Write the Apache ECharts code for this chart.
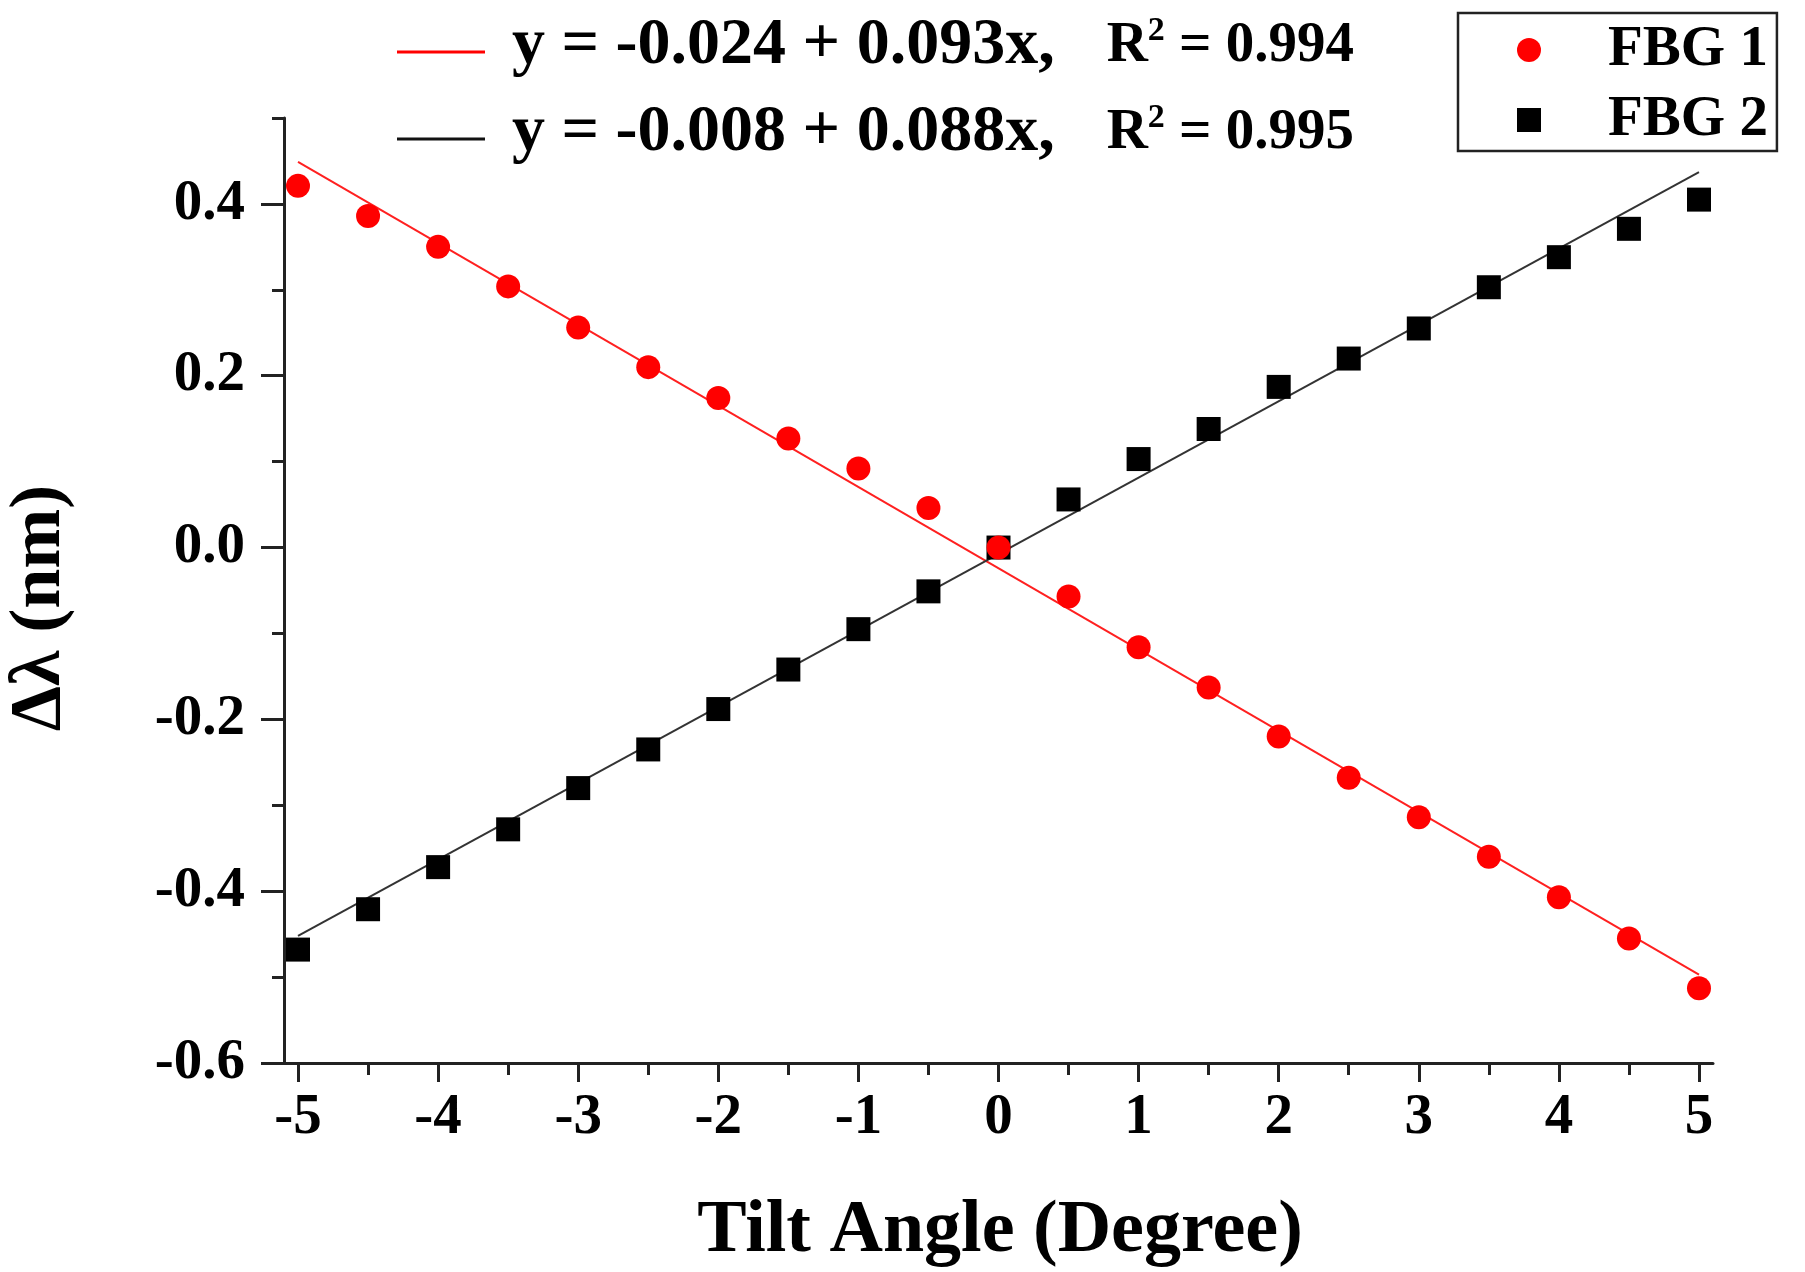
<!DOCTYPE html>
<html>
<head>
<meta charset="utf-8">
<title>Tilt Angle vs Wavelength Shift</title>
<script src="https://cdn.jsdelivr.net/npm/echarts@6/dist/echarts.min.js"></script>
<style>
  html, body { margin: 0; padding: 0; background: #fff; }
  #chart { width: 1805px; height: 1272px; }
</style>
</head>
<body>
<div id="chart"></div>
<script>
// tilt angles (degree)
const tiltAngles = [-5, -4.5, -4, -3.5, -3, -2.5, -2, -1.5, -1, -0.5, 0,
  0.5, 1, 1.5, 2, 2.5, 3, 3.5, 4, 4.5, 5];

// wavelength shift (nm)
const fbg1Shift = [0.421, 0.386, 0.350, 0.304, 0.256, 0.210, 0.174, 0.127, 0.092, 0.046, 0.000,
  -0.057, -0.116, -0.163, -0.220, -0.268, -0.314, -0.360, -0.407, -0.455, -0.513];
const fbg2Shift = [-0.468, -0.421, -0.372, -0.328, -0.280, -0.235, -0.188, -0.142, -0.095, -0.051, 0.000,
  0.056, 0.103, 0.138, 0.187, 0.220, 0.255, 0.303, 0.338, 0.371, 0.405];

// fitted lines, end points
const fitX = [-5, 5];
const fit1Y = [0.449, -0.497];
const fit2Y = [-0.452, 0.437];
const fitNames = ['fit FBG 1', 'fit FBG 2'];
const fitEquations = ['y = -0.024 + 0.093x,', 'y = -0.008 + 0.088x,'];
const fitR2 = ['0.994', '0.995'];

// axis ranges
const xRange = [-5.1, 5.1];
const yRange = [-0.6, 0.5];
const xTickRange = [-5, 5];     // labelled x ticks
const yTickRange = [-0.6, 0.4]; // labelled y ticks

const FONT = '"Liberation Serif", "Times New Roman", serif';
const AXIS_COLOR = '#222';

const pairs = (xs, ys) => xs.map((x, i) => [x, ys[i]]);

// plot box in pixels
const W = 1805, H = 1272;
const box = { left: 284, right: 92, top: 118, bottom: 209 };
const pxPerX = (W - box.left - box.right) / (xRange[1] - xRange[0]);
const pxPerY = (H - box.top - box.bottom) / (yRange[1] - yRange[0]);

// the tick grid sits inside the plot box so its ticks land on round values
const tickBox = {
  left: box.left + (xTickRange[0] - xRange[0]) * pxPerX,
  right: box.right + (xRange[1] - xTickRange[1]) * pxPerX,
  top: box.top + (yRange[1] - yTickRange[1]) * pxPerY,
  bottom: box.bottom
};

const tickStyle = { color: AXIS_COLOR, width: 3 };
const labelStyle = { fontFamily: FONT, fontWeight: 'bold', fontSize: 57, color: '#000' };
const noLine = { show: false, onZero: false };
const mainLine = { show: true, onZero: false, lineStyle: { color: AXIS_COLOR, width: 3 } };

const chart = echarts.init(document.getElementById('chart'));

const option = {
  backgroundColor: '#fff',
  animation: false,
  grid: [
    Object.assign({ containLabel: false }, box),
    Object.assign({ containLabel: false }, tickBox)
  ],
  legend: [
    {
      // regression equations
      data: fitNames,
      orient: 'vertical',
      left: 397,
      top: 13,
      padding: 0,
      itemGap: 10,
      itemWidth: 88,
      itemHeight: 3,
      icon: 'rect',
      selectedMode: false,
      formatter: function (name) {
        const i = fitNames.indexOf(name);
        return '{eq|' + fitEquations[i] + '}{gap|}{r|R}{sup|2}{r| = ' + fitR2[i] + '}';
      },
      textStyle: {
        padding: [0, 0, 12, 22],
        lineHeight: 64,
        rich: {
          eq: { fontFamily: FONT, fontWeight: 'bold', fontSize: 66, color: '#000', lineHeight: 64 },
          gap: { width: 52, lineHeight: 64 },
          r: { fontFamily: FONT, fontWeight: 'bold', fontSize: 57, color: '#000', lineHeight: 64 },
          sup: { fontFamily: FONT, fontWeight: 'bold', fontSize: 34, color: '#000', lineHeight: 64, verticalAlign: 'top', padding: [0, 0, 22, 0] }
        }
      }
    },
    {
      data: ['FBG 1', 'FBG 2'],
      orient: 'vertical',
      left: 1458,
      top: 13,
      padding: [7, 9, 1, 59],
      itemGap: 10,
      itemWidth: 24,
      itemHeight: 24,
      borderColor: AXIS_COLOR,
      borderWidth: 2.5,
      selectedMode: false,
      textStyle: {
        fontFamily: FONT,
        fontWeight: 'bold',
        fontSize: 57,
        color: '#000',
        lineHeight: 60,
        padding: [0, 0, 0, 62]
      }
    }
  ],
  xAxis: [
    {
      // data axis: only the line
      type: 'value', gridIndex: 0, min: xRange[0], max: xRange[1],
      axisLine: mainLine, axisTick: { show: false }, axisLabel: { show: false },
      splitLine: { show: false }
    },
    {
      // major ticks + labels
      type: 'value', gridIndex: 1, min: xTickRange[0], max: xTickRange[1], interval: 1,
      position: 'bottom',
      axisLine: noLine,
      axisTick: { show: true, length: 19, lineStyle: tickStyle },
      axisLabel: Object.assign({ margin: 27 }, labelStyle),
      splitLine: { show: false }
    },
    {
      // minor ticks
      type: 'value', gridIndex: 1, min: xTickRange[0], max: xTickRange[1], interval: 0.5,
      position: 'bottom',
      axisLine: noLine,
      axisTick: { show: true, length: 12, lineStyle: tickStyle },
      axisLabel: { show: false },
      splitLine: { show: false }
    }
  ],
  yAxis: [
    {
      // data axis: line + short ticks every 0.1
      type: 'value', gridIndex: 0, min: yRange[0], max: yRange[1], interval: 0.1,
      axisLine: mainLine,
      axisTick: { show: true, length: 12, lineStyle: tickStyle },
      axisLabel: { show: false },
      splitLine: { show: false }
    },
    {
      // major ticks + labels
      type: 'value', gridIndex: 1, min: yTickRange[0], max: yTickRange[1], interval: 0.2,
      position: 'left',
      offset: tickBox.left - box.left,
      axisLine: noLine,
      axisTick: { show: true, length: 23, lineStyle: tickStyle },
      axisLabel: Object.assign({ margin: 39, formatter: v => v.toFixed(1) }, labelStyle),
      splitLine: { show: false }
    }
  ],
  graphic: [
    {
      type: 'text',
      x: 1000,
      y: 1232,
      style: {
        text: 'Tilt Angle (Degree)',
        fontFamily: FONT,
        fontWeight: 'bold',
        fontSize: 74,
        fill: '#000',
        align: 'center',
        verticalAlign: 'middle'
      }
    },
    {
      type: 'text',
      x: 40,
      y: 608,
      rotation: Math.PI / 2,
      style: {
        text: 'Δλ (nm)',
        fontFamily: FONT,
        fontWeight: 'bold',
        fontSize: 72,
        fill: '#000',
        align: 'center',
        verticalAlign: 'middle'
      }
    }
  ],
  series: [
    {
      name: fitNames[0],
      type: 'line',
      data: pairs(fitX, fit1Y),
      showSymbol: false,
      color: '#ff0000',
      lineStyle: { color: '#ff2020', width: 2 },
      z: 2
    },
    {
      name: fitNames[1],
      type: 'line',
      data: pairs(fitX, fit2Y),
      showSymbol: false,
      color: '#111',
      lineStyle: { color: '#333', width: 2 },
      z: 2
    },
    {
      name: 'FBG 2',
      type: 'scatter',
      data: pairs(tiltAngles, fbg2Shift),
      symbol: 'rect',
      symbolSize: 24,
      itemStyle: { color: '#000', opacity: 1 },
      z: 3
    },
    {
      name: 'FBG 1',
      type: 'scatter',
      data: pairs(tiltAngles, fbg1Shift),
      symbol: 'circle',
      symbolSize: 24,
      itemStyle: { color: '#ff0000', opacity: 1 },
      z: 4
    }
  ]
};

chart.setOption(option);
</script>
</body>
</html>
